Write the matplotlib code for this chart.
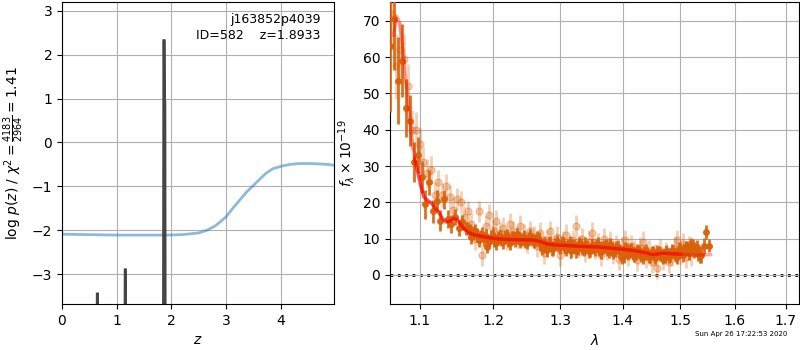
import matplotlib
matplotlib.use("Agg")
import matplotlib.pyplot as plt
from matplotlib.ticker import NullFormatter, NullLocator

# ---- redshift fit panel ----
chi2_z = [0, 0.5, 1.0, 1.5, 1.9, 2.2, 2.5, 2.65, 2.8, 2.9, 3.0, 3.12, 3.25, 3.37,
          3.49, 3.61, 3.73, 3.85, 4.01, 4.17, 4.34, 4.5, 4.71, 4.85, 4.97]
chi2_scaled = [-2.09, -2.1, -2.11, -2.11, -2.11, -2.1, -2.06, -2.0, -1.9, -1.8,
               -1.69, -1.5, -1.31, -1.13, -0.99, -0.84, -0.7, -0.6, -0.54, -0.5,
               -0.48, -0.48, -0.49, -0.5, -0.52]

pz_z = [0.636, 0.644, 0.650, 0.658, 0.670,
        1.146, 1.154, 1.160, 1.168, 1.180,
        1.852, 1.860, 1.868, 1.874, 1.880, 1.888]
pz_log = [-6.0, -3.45, -3.45, -6.0, -6.0,
          -6.0, -2.9, -2.9, -6.0, -6.0,
          -6.0, 2.32, 2.32, 0.92, 0.92, -6.0]

# ---- spectrum panel ----
dark_wave = [1.062, 1.067, 1.072, 1.077, 1.082, 1.087, 1.092, 1.097, 1.102, 1.107,
             1.112, 1.117, 1.122, 1.127, 1.132, 1.137, 1.142, 1.147, 1.152, 1.157,
             1.162, 1.167, 1.172, 1.177, 1.182, 1.187, 1.192, 1.197, 1.202, 1.207,
             1.212, 1.217, 1.222, 1.227, 1.232, 1.237, 1.242, 1.247, 1.252, 1.257,
             1.262, 1.267, 1.272, 1.277, 1.282, 1.287, 1.292, 1.297, 1.302, 1.307,
             1.312, 1.317, 1.322, 1.327, 1.332, 1.337, 1.342, 1.347, 1.352, 1.357,
             1.362, 1.367, 1.372, 1.377, 1.382, 1.387, 1.392, 1.397, 1.402, 1.407,
             1.412, 1.417, 1.422, 1.427, 1.432, 1.437, 1.442, 1.447, 1.452, 1.457,
             1.462, 1.467, 1.472, 1.477, 1.482, 1.487, 1.492, 1.497, 1.502, 1.507,
             1.512, 1.517, 1.522, 1.527, 1.532, 1.537, 1.542, 1.547, 1.552]
dark_flux = [63, 70.5, 53.5, 59, 46, 42.5, 31, 33, 27, 19.5,
             25.5, 17.5, 20.5, 15, 20.8, 15.5, 14, 16, 13, 14.5,
             13, 12, 11.5, 11, 10.5, 9.8, 7.8, 10.5, 9.5, 10.2,
             9.8, 10.5, 9.6, 10.2, 9.4, 10.3, 9.8, 9.2, 10, 9.7,
             9.5, 9.9, 7.2, 7.8, 8.6, 7.1, 8.4, 8.0, 8.8, 7.6,
             8.2, 6.5, 8.1, 7.4, 8.3, 7.0, 7.9, 6.8, 7.5, 8.2,
             6.9, 7.6, 8.0, 6.5, 7.3, 6.8, 7.8, 6.2, 5.2, 7.0,
             6.6, 6.0, 5.8, 6.4, 5.5, 6.2, 5.9, 5.2, 6.1, 5.6,
             6.3, 5.4, 5.0, 6.0, 5.5, 6.4, 5.3, 7.2, 6.5, 7.0,
             7.6, 7.8, 8.0, 7.2, 5.8, 5.5, 8.0, 11.8, 8.0]
dark_err = [18, 14, 12, 10, 8, 7, 5.5, 5, 4.5, 4,
            3.5, 3.2, 3, 2.8, 2.6, 2.5, 2.4, 2.3, 2.2, 2.1,
            2, 2, 1.9, 1.9, 1.8, 1.8, 1.8, 1.8, 1.8, 1.8,
            1.8, 1.8, 1.8, 1.8, 1.8, 1.8, 1.8, 1.8, 1.8, 1.8,
            1.8, 1.8, 1.8, 1.8, 1.8, 1.8, 1.8, 1.8, 1.8, 1.8,
            1.8, 1.8, 1.8, 1.8, 1.8, 1.8, 1.8, 1.8, 1.8, 1.8,
            1.8, 1.8, 1.8, 1.8, 1.8, 1.8, 1.8, 1.8, 1.8, 1.8,
            1.8, 1.8, 1.8, 1.8, 1.8, 1.8, 1.8, 1.8, 1.8, 1.8,
            1.8, 1.8, 1.8, 1.8, 1.8, 1.8, 1.8, 1.8, 1.8, 1.8,
            1.8, 1.9, 1.9, 2.0, 2.0, 2.1, 2.2, 2.0, 1.8]

# second beam, same grating, interleaved sampling
beam2_wave = [1.1645, 1.1695, 1.1745, 1.1795, 1.1845, 1.1895, 1.1945, 1.1995, 1.2045, 1.2095,
              1.2145, 1.2195, 1.2245, 1.2295, 1.2345, 1.2395, 1.2445, 1.2495, 1.2545, 1.2595,
              1.2645, 1.2695, 1.2745, 1.2795, 1.2845, 1.2895, 1.2945, 1.2995, 1.3045, 1.3095,
              1.3145, 1.3195, 1.3245, 1.3295, 1.3345, 1.3395, 1.3445, 1.3495, 1.3545, 1.3595,
              1.3645, 1.3695, 1.3745, 1.3795, 1.3845, 1.3895, 1.3945, 1.3995, 1.4045, 1.4095,
              1.4145, 1.4195, 1.4245, 1.4295, 1.4345, 1.4395, 1.4445, 1.4495, 1.4545, 1.4595,
              1.4645, 1.4695, 1.4745, 1.4795, 1.4845, 1.4895, 1.4945, 1.4995, 1.5045, 1.5095,
              1.5145, 1.5195, 1.5245, 1.5295, 1.5345]
beam2_flux = [12.8, 10.5, 12.2, 9.6, 11.4, 10.8, 9.2, 11.0, 8.8, 10.6,
              9.0, 10.9, 8.7, 10.4, 11.2, 9.1, 10.5, 8.9, 10.8, 9.3,
              10.2, 8.6, 9.0, 6.8, 8.9, 7.4, 9.3, 7.6, 8.7, 6.9,
              9.0, 7.8, 6.6, 8.7, 7.2, 8.6, 6.5, 8.3, 7.1, 8.6,
              6.3, 7.9, 7.0, 8.4, 6.1, 7.5, 6.6, 4.8, 7.4, 6.0,
              7.1, 5.3, 6.8, 5.9, 4.9, 6.6, 5.1, 6.2, 4.8, 6.4,
              5.7, 4.7, 6.5, 5.0, 6.8, 5.6, 4.9, 6.9, 5.4, 7.4,
              6.0, 8.2, 6.6, 7.6, 5.3]
beam2_err = [1.9, 1.9, 1.9, 1.9, 1.9, 1.8, 1.8, 1.8, 1.8, 1.8,
             1.8, 1.8, 1.8, 1.8, 1.8, 1.8, 1.8, 1.8, 1.8, 1.8,
             1.8, 1.8, 1.8, 1.8, 1.8, 1.8, 1.8, 1.8, 1.8, 1.8,
             1.8, 1.8, 1.8, 1.8, 1.8, 1.8, 1.8, 1.8, 1.8, 1.8,
             1.8, 1.8, 1.8, 1.8, 1.8, 1.8, 1.8, 1.8, 1.8, 1.8,
             1.8, 1.8, 1.8, 1.8, 1.8, 1.8, 1.8, 1.8, 1.8, 1.8,
             1.8, 1.8, 1.8, 1.8, 1.8, 1.8, 1.8, 1.8, 1.9, 1.9,
             1.9, 2.0, 2.0, 2.1, 2.1]

light_wave = [1.0645, 1.0695, 1.0745, 1.0795, 1.0845, 1.0895, 1.0945, 1.0995, 1.1045, 1.1095,
              1.1145, 1.1195, 1.1245, 1.1295, 1.1345, 1.1395, 1.1445, 1.1495, 1.1545, 1.1595,
              1.1645, 1.1695, 1.1745, 1.1795, 1.1845, 1.1895, 1.1945, 1.1995, 1.2045, 1.2095,
              1.2145, 1.2195, 1.2245, 1.2295, 1.2345, 1.2395, 1.2445, 1.2495, 1.2545, 1.2595,
              1.2645, 1.2695, 1.2745, 1.2795, 1.2845, 1.2895, 1.2945, 1.2995, 1.3045, 1.3095,
              1.3145, 1.3195, 1.3245, 1.3295, 1.3345, 1.3395, 1.3445, 1.3495, 1.3545, 1.3595,
              1.3645, 1.3695, 1.3745, 1.3795, 1.3845, 1.3895, 1.3945, 1.3995, 1.4045, 1.4095,
              1.4145, 1.4195, 1.4245, 1.4295, 1.4345, 1.4395, 1.4445, 1.4495, 1.4545, 1.4595,
              1.4645, 1.4695, 1.4745, 1.4795, 1.4845, 1.4895, 1.4945, 1.4995, 1.5045, 1.5095,
              1.5145, 1.5195]
light_flux = [72, 57.5, 62, 59.5, 52, 40, 40, 36, 31, 28,
              29, 22, 25.5, 22, 24.5, 21.5, 18, 21, 20, 16,
              17.5, 14, 10, 17.5, 5.5, 13.5, 16.5, 12.5, 15, 11.5,
              13, 10, 14, 12, 10.5, 13.5, 11, 9, 12, 10.5,
              8, 11.5, 6, 9.5, 12, 8, 10.5, 5.5, 9, 11,
              7.5, 9.5, 13.5, 8, 10, 6.5, 9, 11.5, 7.5, 8.5,
              5.5, 10, 7, 9, 6, 8, 4.5, 7.5, 9.5, 5.5,
              8, 6.5, 4, 7.5, 9, 5, 6.5, 3.5, 5.5, 2,
              7, 4.5, 6, 3.5, 5.5, 7.5, 9.5, 6, 8.5, 5,
              7.5, 6]
light_err = [10, 9, 8, 7, 6, 5.5, 5, 4.5, 4.2, 4,
             3.8, 3.6, 3.5, 3.4, 3.3, 3.2, 3.1, 3, 3, 3,
             3, 3, 3, 3, 3, 3, 3, 3, 3, 3,
             3, 3, 3, 3, 3, 3, 3, 3, 3, 3,
             3, 3, 3, 3, 3, 3, 3, 3, 3, 3,
             3, 3, 3, 3, 3, 3, 3, 3, 3, 3,
             3, 3, 3, 3, 3, 3, 3, 3, 3, 3,
             3, 3, 3, 3, 3, 3, 3, 3, 3, 3,
             3, 3, 3, 3, 3, 3, 3, 3, 3, 3.2,
             3.3, 3.4]

model_wave = [1.066, 1.070, 1.072, 1.075, 1.078, 1.081, 1.085, 1.089, 1.093, 1.097,
              1.101, 1.105, 1.110, 1.115, 1.120, 1.125, 1.130, 1.135, 1.140, 1.145,
              1.150, 1.155, 1.160, 1.165, 1.170, 1.175, 1.180, 1.190, 1.200, 1.210,
              1.220, 1.240, 1.260, 1.270, 1.280, 1.290, 1.300, 1.320, 1.340, 1.360,
              1.380, 1.400, 1.420, 1.430, 1.440, 1.450, 1.460, 1.470, 1.480, 1.500,
              1.520, 1.540, 1.555]
model_flux = [66, 71.2, 70.5, 67, 62, 55, 47, 38, 32, 28.5,
              24.5, 21.5, 20.5, 19.8, 18.5, 17.2, 15.5, 14.6, 14.8, 15.6,
              15.2, 13.8, 12.6, 11.8, 11.3, 11.0, 10.8, 10.4, 10.1, 9.9,
              9.8, 9.7, 9.6, 9.2, 8.5, 8.3, 8.2, 8.0, 7.8, 7.7,
              7.4, 7.1, 6.7, 6.4, 6.1, 5.6, 5.8, 6.0, 5.9, 5.7,
              5.5, 5.5, 5.6]

lam_ticks = [1.1, 1.2, 1.3, 1.4, 1.5, 1.6, 1.7]
z_ticks = [0, 1, 2, 3, 4]
flux_ticks = [0, 10, 20, 30, 40, 50, 60, 70]

orange = "#d9610a"
spike_grey = "#454545"

fig = plt.figure(figsize=(8, 3.5), dpi=100)
ax1 = fig.add_axes([0.0775, 0.1314, 0.34, 0.863])
ax2 = fig.add_axes([0.4875, 0.1314, 0.511, 0.863])

# left: chi2 and p(z)
ax1.plot(chi2_z, chi2_scaled, color="#1f77b4", alpha=0.5, lw=2)
ax1.fill_between(pz_z, pz_log, -6, color=spike_grey, lw=0)
ax1.plot(pz_z, pz_log, color=spike_grey, lw=2.0, solid_joinstyle="miter")
ax1.set_xlim(0, 4.97)
ax1.set_ylim(-3.68, 3.2)
ax1.set_xticks(z_ticks)
ax1.grid(True)
ax1.set_xlabel(r"$z$")
ax1.set_ylabel(r"$\log\,p(z)$ / $\chi^2=\frac{4183}{2964}=1.41$")
ax1.text(0.95, 0.965, "j163852p4039\nID=582    z=1.8933", transform=ax1.transAxes,
         ha="right", va="top", fontsize=9, linespacing=1.3)

# right: spectrum
ax2.errorbar(light_wave, light_flux, yerr=light_err, fmt="o", color=orange,
             alpha=0.3, markersize=5, elinewidth=2, capsize=0, zorder=2)
ax2.errorbar(dark_wave, dark_flux, yerr=dark_err, fmt="o", color=orange,
             alpha=0.9, markersize=4, elinewidth=2, capsize=0, zorder=3)
ax2.errorbar(beam2_wave, beam2_flux, yerr=beam2_err, fmt="o", color=orange,
             alpha=0.9, markersize=4, elinewidth=2, capsize=0, zorder=3)
ax2.plot(model_wave, model_flux, color="r", alpha=0.35, lw=2.4, zorder=4)
m_in = [i for i, w in enumerate(model_wave) if 1.09 <= w <= 1.51]
ax2.plot([model_wave[i] for i in m_in], [model_flux[i] for i in m_in],
         color="r", alpha=0.55, lw=2.4, zorder=5)
ax2.axhline(0, color="k", ls=":", lw=2.0, zorder=1)
ax2.set_xscale("log")
ax2.set_xlim(1.0614, 1.727)
ax2.set_ylim(-8, 75.2)
ax2.set_xticks(lam_ticks)
ax2.set_xticklabels([f"{t:.1f}" for t in lam_ticks])
ax2.xaxis.set_minor_locator(NullLocator())
ax2.xaxis.set_minor_formatter(NullFormatter())
ax2.set_yticks(flux_ticks)
ax2.grid(True)
ax2.set_xlabel(r"$\lambda$")
ax2.set_ylabel(r"$f_\lambda \times 10^{-19}$")

fig.text(0.984, 0.045, "Sun Apr 26 17:22:53 2020", ha="right", va="center", fontsize=5)

fig.savefig("out.png", dpi=100)
